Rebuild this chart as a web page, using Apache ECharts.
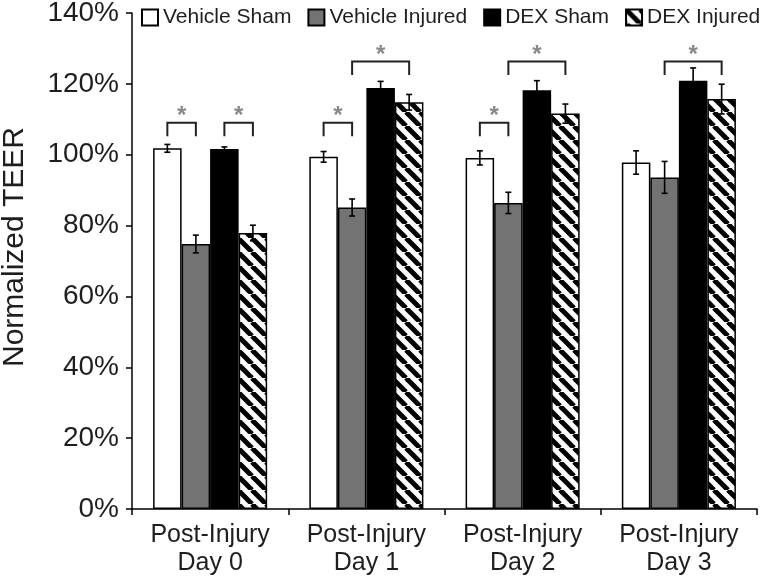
<!DOCTYPE html>
<html>
<head>
<meta charset="utf-8">
<script src="https://cdn.jsdelivr.net/npm/echarts@6/dist/echarts.min.js"></script>
<style>html,body{margin:0;padding:0;background:#fff;}#c{width:768px;height:580px;}</style>
</head>
<body>
<div id="c"></div>
<script>
// ---- data ----
const categories = ['Post-Injury\nDay 0', 'Post-Injury\nDay 1', 'Post-Injury\nDay 2', 'Post-Injury\nDay 3'];
const seriesNames = ['Vehicle Sham', 'Vehicle Injured', 'DEX Sham', 'DEX Injured'];
const vehicleSham = [101.8, 99.4, 99.1, 97.8];
const vehicleInjured = [74.8, 85.1, 86.4, 93.6];
const dexSham = [101.6, 118.8, 118.2, 120.9];
const dexInjured = [77.9, 114.8, 111.6, 115.7];
const vehicleShamErr = [1.1, 1.5, 2.0, 3.3];
const vehicleInjuredErr = [2.5, 2.4, 3.0, 4.5];
const dexShamErr = [0.6, 1.9, 2.7, 3.6];
const dexInjuredErr = [2.2, 2.2, 2.7, 4.2];
const yTicks = [0, 20, 40, 60, 80, 100, 120, 140];
// significance brackets: [category index, from bar, to bar, bracket level (%)]
const brackets = [
  [0, 0, 1, 109], [0, 2, 3, 109],
  [1, 0, 1, 109], [1, 1, 3, 126.3],
  [2, 0, 1, 109], [2, 1, 3, 126.3],
  [3, 1, 3, 126.3]
];

const values = [vehicleSham, vehicleInjured, dexSham, dexInjured];
const errs = [vehicleShamErr, vehicleInjuredErr, dexShamErr, dexInjuredErr];

// hatch pattern
const tile = document.createElement('canvas');
tile.width = 14; tile.height = 14;
const tc = tile.getContext('2d');
tc.fillStyle = '#fff'; tc.fillRect(0, 0, 14, 14);
tc.strokeStyle = '#000'; tc.lineWidth = 5;
for (const k of [-14, 0, 14]) { tc.beginPath(); tc.moveTo(k, 0); tc.lineTo(k + 14, 14); tc.stroke(); }

const fills = ['#ffffff', '#737373', '#000000', { image: tile, repeat: 'repeat' }];
const GAP = 0.27, NB = 4;
const FONT = '"Liberation Sans", Arial, sans-serif';
const TXT = '#1e1e1e';

function barCenter(api, cat, idx, val) {
  const p = api.coord([cat, val]);
  const bw = api.size([1, 0])[0] * (1 - GAP) / NB;
  return [p[0] - bw * NB / 2 + bw * (idx + 0.5), p[1]];
}

const errData = [];
values.forEach((arr, s) => arr.forEach((v, c) => errData.push([c, s, v - errs[s][c], v + errs[s][c]])));

const barSeries = seriesNames.map((n, s) => ({
  name: n, type: 'bar', data: values[s],
  barGap: '0%', barCategoryGap: (GAP * 100) + '%',
  itemStyle: { color: fills[s], borderColor: '#000', borderWidth: 1.5 },
  emphasis: { disabled: true }, z: 2
}));

const chart = echarts.init(document.getElementById('c'), null, { renderer: 'canvas' });
chart.setOption({
  animation: false,
  backgroundColor: '#fff',
  grid: { left: 132, right: 11, top: 13, bottom: 71, containLabel: false, outerBoundsMode: 'none' },
  legend: {
    data: seriesNames, left: 136, top: 2, icon: 'rect',
    itemWidth: 16, itemHeight: 16, itemGap: 16,
    itemStyle: { borderColor: '#000', borderWidth: 2 },
    textStyle: { fontFamily: FONT, fontSize: 21, color: TXT }
  },
  xAxis: {
    type: 'category', data: categories,
    axisLine: { lineStyle: { color: '#000', width: 1.5 } },
    axisTick: { show: true, length: 6, lineStyle: { color: '#000', width: 1.5 } },
    axisLabel: { interval: 0, fontFamily: FONT, fontSize: 25, color: TXT, lineHeight: 28, margin: 12 }
  },
  yAxis: {
    type: 'value', min: yTicks[0], max: yTicks[yTicks.length - 1], interval: 20,
    name: 'Normalized TEER', nameLocation: 'middle', nameGap: 102,
    nameTextStyle: { fontFamily: FONT, fontSize: 30, color: TXT, padding: [0, 0, 0, 28] },
    splitLine: { show: false },
    axisLine: { show: true, lineStyle: { color: '#000', width: 1.5 } },
    axisTick: { show: true, length: 6, lineStyle: { color: '#000', width: 1.5 } },
    axisLabel: { fontFamily: FONT, fontSize: 28, color: TXT, margin: 13, formatter: '{value}%' }
  },
  series: barSeries.concat([
    {
      type: 'custom', name: 'err', data: errData, z: 5, silent: true,
      encode: { x: 0, y: [2, 3] },
      renderItem: function (params, api) {
        const c = api.value(0), s = api.value(1);
        const lo = barCenter(api, c, s, api.value(2));
        const hi = barCenter(api, c, s, api.value(3));
        const cw = 3;
        const st = { stroke: '#000', lineWidth: 1.6 };
        return { type: 'group', children: [
          { type: 'line', shape: { x1: lo[0], y1: lo[1], x2: hi[0], y2: hi[1] }, style: st },
          { type: 'line', shape: { x1: lo[0] - cw, y1: lo[1], x2: lo[0] + cw, y2: lo[1] }, style: st },
          { type: 'line', shape: { x1: hi[0] - cw, y1: hi[1], x2: hi[0] + cw, y2: hi[1] }, style: st }
        ] };
      }
    },
    {
      type: 'custom', name: 'sig', data: brackets, z: 6, silent: true, clip: false,
      encode: { x: 0, y: 3 },
      renderItem: function (params, api) {
        const c = api.value(0), a = api.value(1), b = api.value(2), lvl = api.value(3);
        const p1 = barCenter(api, c, a, lvl), p2 = barCenter(api, c, b, lvl);
        const legY = api.coord([c, lvl - 3.8])[1];
        return { type: 'group', children: [
          { type: 'polyline', shape: { points: [[p1[0], legY], [p1[0], p1[1]], [p2[0], p2[1]], [p2[0], legY]] },
            style: { stroke: '#222', lineWidth: 2, fill: null } },
          { type: 'text', x: (p1[0] + p2[0]) / 2, y: p1[1] - 18,
            style: { text: '*', fontFamily: FONT, fontSize: 24, fontWeight: 'bold', fill: '#888888', align: 'center', verticalAlign: 'top' } }
        ] };
      }
    }
  ])
});
</script>
</body>
</html>
